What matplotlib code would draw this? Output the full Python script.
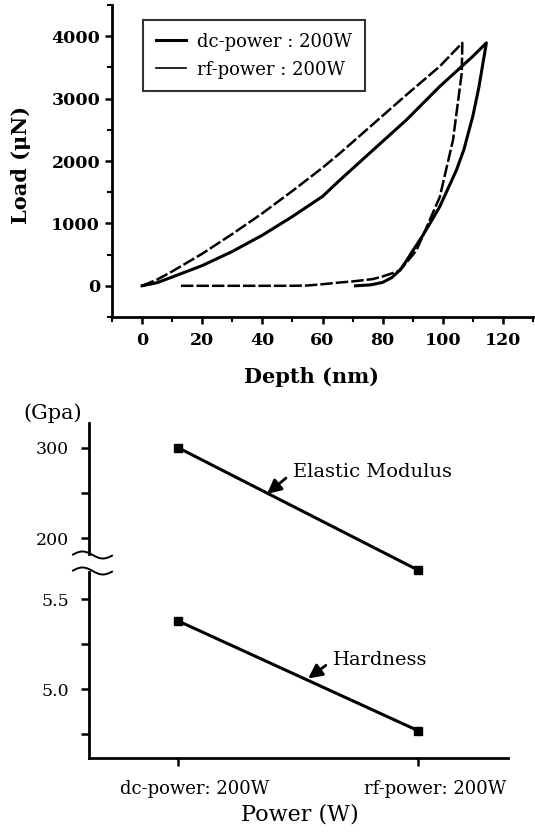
#!/usr/bin/env python3
"""
Nanoindentation load-depth curves and modulus / hardness vs sputter power.
"""
import numpy as np
import matplotlib
matplotlib.use('Agg')
import matplotlib.pyplot as plt
from matplotlib.ticker import MultipleLocator, FixedLocator
from matplotlib.lines import Line2D
from matplotlib.transforms import ScaledTranslation

plt.rcParams['font.family'] = ['DejaVu Serif']

# load-depth curves (depth in nm, load in uN)
dc_load_depth = [0, 5, 10, 20, 30, 40, 50, 60, 65.7, 76.8, 87.9, 99, 110, 114.5]
dc_load_load = [0, 50, 140, 324, 550, 811, 1110, 1432, 1691, 2175, 2658, 3195, 3678, 3893]
dc_unload_depth = [114.5, 112, 110, 107, 104.5, 101, 99, 96, 93, 90, 87.5, 85.7, 83, 80, 76, 71]
dc_unload_load = [3893, 3180, 2720, 2180, 1850, 1480, 1270, 1020, 780, 560, 370, 250, 130, 55, 15, 0]

rf_load_depth = [0, 5, 10, 20, 30, 40, 50, 60, 65.7, 76.8, 87.9, 99, 106.5]
rf_load_load = [0, 100, 230, 514, 830, 1162, 1520, 1892, 2121, 2590, 3060, 3517, 3893]
rf_unload_depth = [106.5, 106.3, 103.4, 99, 95.6, 91.2, 85.7, 80, 76.8, 70, 65.7, 60, 55, 50, 12]
rf_unload_load = [3893, 3410, 2336, 1423, 1047, 564, 242, 150, 108, 70, 53, 25, 5, 0, 0]

# mechanical properties vs power
power_labels = ['dc-power: 200W', 'rf-power: 200W']
elastic_modulus = [300, 165]   # GPa
hardness = [5.38, 4.77]        # GPa

W, H = 535, 834
fig = plt.figure(figsize=(W / 100, H / 100), dpi=100)


def px_box(x0, y0, x1, y1):
    """pixel box (top-left origin) -> figure fraction rect"""
    return [x0 / W, 1 - y1 / H, (x1 - x0) / W, (y1 - y0) / H]


# ---------------- top panel: load vs depth ----------------
ax1 = fig.add_axes(px_box(112, 5, 533, 317))
dc_x = np.concatenate([dc_load_depth, dc_unload_depth])
dc_y = np.concatenate([dc_load_load, dc_unload_load])
rf_x = np.concatenate([rf_load_depth, rf_unload_depth])
rf_y = np.concatenate([rf_load_load, rf_unload_load])
dc_line, = ax1.plot(dc_x, dc_y, color='k', lw=2.2, solid_joinstyle='round')
ax1.plot(rf_x, rf_y, color='k', lw=1.8, linestyle=(0, (5, 1.2)))

ax1.set_xlim(-10, 130)
ax1.set_ylim(-500, 4500)
ax1.xaxis.set_major_locator(MultipleLocator(20))
ax1.xaxis.set_minor_locator(MultipleLocator(10))
ax1.yaxis.set_major_locator(FixedLocator([0, 1000, 2000, 3000, 4000]))
ax1.yaxis.set_minor_locator(MultipleLocator(500))
for s in ['top', 'right']:
    ax1.spines[s].set_visible(False)
for s in ['left', 'bottom']:
    ax1.spines[s].set_linewidth(2)
ax1.tick_params(which='major', direction='out', length=5, width=1.8, labelsize=12.5)
ax1.tick_params(which='minor', direction='out', length=3.5, width=1.5)
ax1.tick_params(axis='x', pad=6)
plt.setp(ax1.get_xticklabels() + ax1.get_yticklabels(), fontweight='bold')
ax1.set_xlabel('Depth (nm)', fontsize=15, fontweight='bold', va='center')
ax1.set_ylabel('Load (μN)', fontsize=15, fontweight='bold', va='center')
ax1.xaxis.set_label_coords(0.475, -0.193)
ax1.yaxis.set_label_coords(-0.217, 0.487)

rf_handle = Line2D([], [], color='k', lw=1.2)
leg = ax1.legend([dc_line, rf_handle], ['dc-power : 200W', 'rf-power : 200W'],
                 loc='upper left', bbox_to_anchor=(0.0736, 0.952), borderaxespad=0,
                 fontsize=13, handlelength=1.7, handletextpad=0.6,
                 labelspacing=0.55, borderpad=0.7, fancybox=False)
leg.get_frame().set_edgecolor('k')
leg.get_frame().set_linewidth(1.5)

# ---------------- bottom panel: broken y axis ----------------
ax_up = fig.add_axes(px_box(89, 423, 508, 572))
ax_lo = fig.add_axes(px_box(89, 572, 508, 758))
xpos = np.arange(len(power_labels))

ax_up.plot(xpos, elastic_modulus, color='k', lw=2.2, marker='s', ms=6, clip_on=False)
ax_lo.plot(xpos, hardness, color='k', lw=2.2, marker='s', ms=6, clip_on=False)

for ax in (ax_up, ax_lo):
    ax.set_xlim(-0.371, 1.375)
    ax.patch.set_visible(False)
    ax.spines['top'].set_visible(False)
    ax.spines['right'].set_visible(False)
    ax.spines['left'].set_linewidth(2)
    ax.tick_params(which='major', direction='out', length=5.5, width=1.8, labelsize=12.5)
    ax.tick_params(which='minor', direction='out', length=5.5, width=1.8)
    ax.tick_params(axis='y', pad=9)

ax_up.set_ylim(162.9, 327.2)
ax_up.spines['left'].set_bounds(183, 327.2)
ax_up.spines['bottom'].set_visible(False)
ax_up.set_yticks([200, 300])
ax_up.yaxis.set_minor_locator(FixedLocator([250]))
ax_up.tick_params(axis='x', which='both', bottom=False, labelbottom=False)

ax_lo.set_ylim(4.618, 5.652)
ax_lo.set_yticks([5.0, 5.5])
ax_lo.set_yticklabels(['5.0', '5.5'])
ax_lo.yaxis.set_minor_locator(FixedLocator([4.75, 5.25]))
ax_lo.spines['bottom'].set_linewidth(2)
ax_lo.set_xticks(xpos)
ax_lo.set_xticklabels(power_labels, fontsize=13)
ax_lo.tick_params(axis='x', pad=10)
shift = ScaledTranslation(12 / 72, 0, fig.dpi_scale_trans)
for lab in ax_lo.get_xticklabels():
    lab.set_transform(lab.get_transform() + shift)
ax_lo.set_xlabel('Power (W)', fontsize=16, va='center')
ax_lo.xaxis.set_label_coords(0.504, -0.306)

fig.text(53 / W, 1 - 413 / H, '(Gpa)', fontsize=15, ha='center', va='center')

# axis break marks
for y0 in (555, 571):
    xs = np.linspace(73, 112, 40)
    t = (xs - 73) / (112 - 73)
    ys = y0 - 3.5 * np.sin(2 * np.pi * (t * 0.95 + 0.02))
    fig.add_artist(Line2D(xs / W, 1 - ys / H, transform=fig.transFigure,
                          color='k', lw=1.4))

arrow = dict(arrowstyle='-|>,head_length=0.6,head_width=0.3', lw=2, color='k',
             shrinkA=4, shrinkB=0, relpos=(0, 0.5))
ax_up.annotate('Elastic Modulus', xy=(0.371, 249), xytext=(0.479, 273),
               fontsize=14, ha='left', va='center', arrowprops=arrow)
ax_lo.annotate('Hardness', xy=(0.542, 5.06), xytext=(0.646, 5.163),
               fontsize=14, ha='left', va='center', arrowprops=arrow)

plt.savefig('out.png', dpi=100)
